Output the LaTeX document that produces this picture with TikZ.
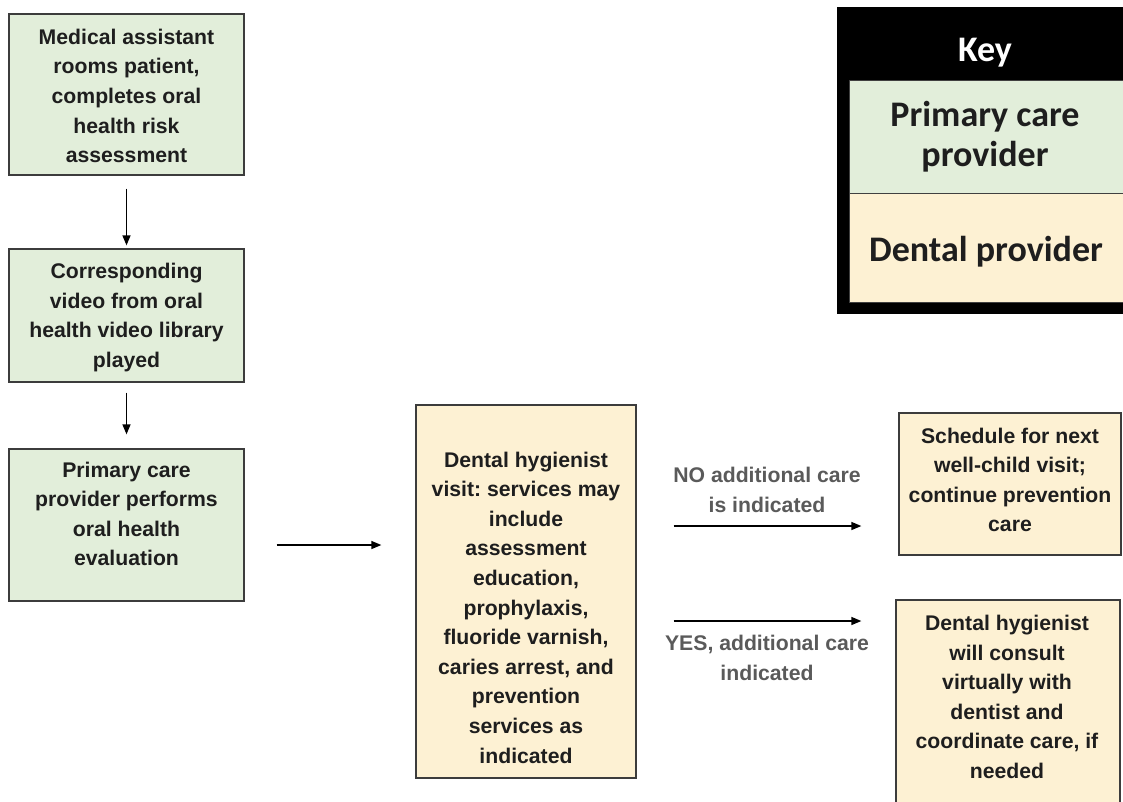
\documentclass[tikz,border=0pt]{standalone}
\usepackage{fontspec}
\setmainfont{Liberation Sans}
\newfontfamily\keyfont{Carlito}
\usetikzlibrary{arrows.meta}
\definecolor{gfill}{HTML}{E2EEDA}
\definecolor{tfill}{HTML}{FDF1D3}
\definecolor{bord}{HTML}{3C3C3C}
\definecolor{txtc}{HTML}{1E1E1E}
\definecolor{lblc}{HTML}{5A5A5A}
\frenchspacing
\begin{document}
\begin{tikzpicture}[x=1pt,y=-1pt,
  box/.style={draw=bord, line width=1.3pt, rectangle, inner sep=0pt},
  gbox/.style={box, fill=gfill},
  tbox/.style={box, fill=tfill},
  txt/.style={align=center, text=txtc, font=\fontsize{21.2}{29.6}\selectfont\bfseries\frenchspacing, inner sep=0pt},
  lbl/.style={align=center, text=lblc, font=\fontsize{21.2}{30}\selectfont\bfseries\frenchspacing, inner sep=0pt},
  arr/.style={-{Triangle[length=10pt,width=8pt]}, line width=1.4pt, draw=black},
  keytxt/.style={align=center, font=\keyfont\fontsize{36}{40}\selectfont\bfseries, inner sep=0pt},
  keypart/.style={draw=black!75, line width=0.8pt, inner sep=0pt, anchor=north west},
]
\useasboundingbox (0,0) rectangle (1123,801);
\fill[white] (0,0) rectangle (1123,801);

% boxes
\node[gbox, minimum width=235, minimum height=161] (b1) at (126.5,94.5) {};
\node[gbox, minimum width=235, minimum height=133] (b2) at (126.5,315.5) {};
\node[gbox, minimum width=235, minimum height=152] (b3) at (126.5,525) {};
\node[tbox, minimum width=220, minimum height=373] (b4) at (526,591.5) {};
\node[tbox, minimum width=222, minimum height=142] (b5) at (1010,484) {};
\node[tbox, minimum width=224, minimum height=240] (b6) at (1008,720) {};

% texts
\node[txt] (t1) at (126.5,96) {Medical assistant\\rooms patient,\\completes oral\\health risk\\assessment};
\node[txt] (t2) at (126.5,317.5) {Corresponding\\video from oral\\health video library\\played};
\node[txt] (t3) at (126.5,514) {Primary care\\provider performs\\oral health\\evaluation};
\node[txt] (t4) at (526,607.5) {Dental hygienist\\visit: services may\\include\\assessment\\education,\\prophylaxis,\\fluoride varnish,\\caries arrest, and\\prevention\\services as\\indicated};
\node[txt] (t5) at (1010,480) {Schedule for next\\well-child visit;\\continue prevention\\care};
\node[txt] (t6) at (1007,697) {Dental hygienist\\will consult\\virtually with\\dentist and\\coordinate care, if\\needed};

% labels
\node[lbl] (lno) at (767,490) {NO additional care\\is indicated};
\node[lbl] (lyes) at (767,658) {YES, additional care\\indicated};

% arrows
\coordinate (y3) at (0,545);
\coordinate (yno) at (0,526);
\coordinate (yyes) at (0,621);
\draw[arr, shorten <=13pt, shorten >=3pt] (b1) -- (b2);
\draw[arr, shorten <=10pt, shorten >=14pt] (b2) -- (b3);
\draw[arr, shorten <=32pt, shorten >=34pt] (b3.east |- y3) -- (b4.west |- y3);
\draw[arr, shorten <=37pt, shorten >=37pt] (b4.east |- yno) -- (b5.west |- yno);
\draw[arr, shorten <=37pt, shorten >=34pt] (b4.east |- yyes) -- (b6.west |- yyes);

% key
\node[fill=black, inner sep=0pt, minimum width=293, minimum height=307, anchor=north west] (key) at (837,7) {};
\node[keypart, fill=gfill, minimum width=281, minimum height=113] (kg) at (849,80) {};
\node[keypart, fill=tfill, minimum width=281, minimum height=109] (kt) at (849,193) {};
\node[keytxt, text=white] (kk) at (985,53) {Key};
\node[keytxt, text=txtc] (kp) at (985,137) {Primary care\\provider};
\node[keytxt, text=txtc] (kd) at (986,252) {Dental provider};
\end{tikzpicture}
\end{document}
